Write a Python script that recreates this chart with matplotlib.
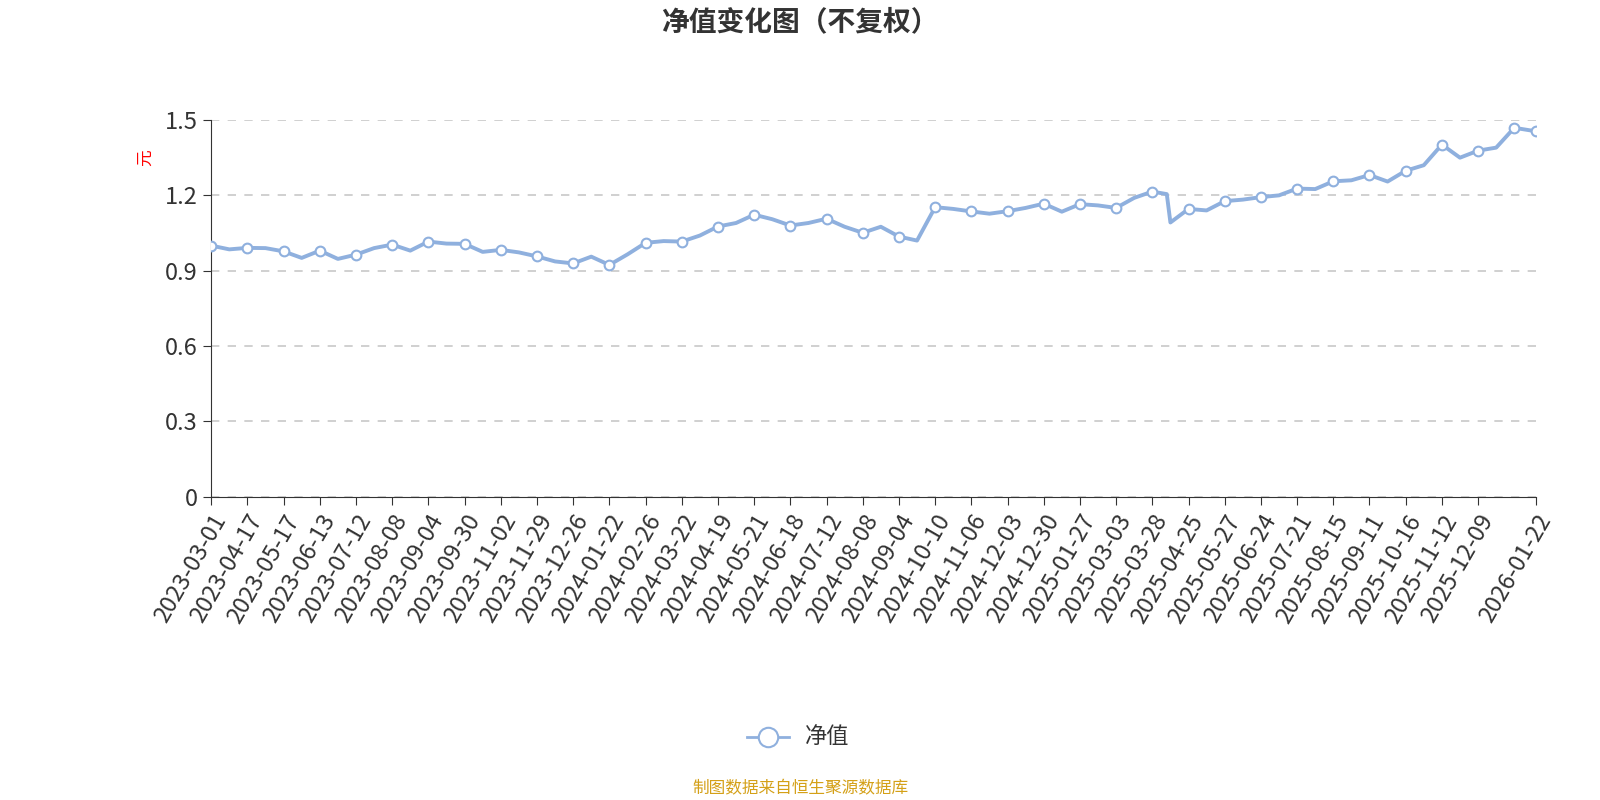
import matplotlib
matplotlib.use("Agg")
import matplotlib.pyplot as plt
import numpy as np

plt.rcParams['font.family'] = ['Noto Sans CJK SC', 'DejaVu Sans']

tick_labels = ["2023-03-01","2023-04-17","2023-05-17","2023-06-13","2023-07-12","2023-08-08",
 "2023-09-04","2023-09-30","2023-11-02","2023-11-29","2023-12-26","2024-01-22","2024-02-26",
 "2024-03-22","2024-04-19","2024-05-21","2024-06-18","2024-07-12","2024-08-08","2024-09-04",
 "2024-10-10","2024-11-06","2024-12-03","2024-12-30","2025-01-27","2025-03-03","2025-03-28",
 "2025-04-25","2025-05-27","2025-06-24","2025-07-21","2025-08-15","2025-09-11","2025-10-16",
 "2025-11-12","2025-12-09","2026-01-22"]

period = [0,0.5,1,1.5,2,2.5,3,3.5,4,4.5,5,5.5,6,6.5,7,7.5,8,8.5,9,9.5,10,10.5,11,11.5,12,12.5,
          13,13.5,14,14.5,15,15.5,16,16.5,17,17.5,18,18.5,19,19.5,20,20.5,21,21.5,22,22.5,23,23.5,
          24,24.5,25,25.5,26,26.4,26.5,27,27.5,28,28.5,29,29.5,30,30.5,31,31.5,32,32.5,33,33.5,
          34,34.5,35,35.5,36,36.6]
nav = [1.0,0.985,0.991,0.99,0.977,0.951,0.98,0.947,0.964,0.99,1.004,0.98,1.016,1.008,1.007,0.975,
       0.983,0.973,0.957,0.937,0.929,0.956,0.923,0.965,1.011,1.018,1.016,1.04,1.076,1.09,1.123,1.105,
       1.08,1.09,1.107,1.075,1.051,1.075,1.036,1.02,1.153,1.146,1.136,1.127,1.137,1.15,1.167,1.135,
       1.165,1.16,1.15,1.19,1.215,1.205,1.092,1.146,1.14,1.177,1.183,1.193,1.2,1.227,1.225,1.256,
       1.26,1.281,1.255,1.298,1.32,1.402,1.35,1.378,1.39,1.469,1.455]

color = '#8fb0de'
fig = plt.figure(figsize=(16, 8), dpi=100)
ax = fig.add_axes([0.132, 0.379, 0.828, 0.471])
ax.plot(period, nav, color=color, lw=2.8, zorder=3)
mk = [i for i, p in enumerate(period) if float(p).is_integer()] + [len(period) - 1]
ax.plot([period[i] for i in mk], [nav[i] for i in mk], 'o', ms=7, mfc='white', mec=color,
        mew=1.5, zorder=4)

ax.set_xlim(0, period[-1])
ax.set_ylim(0, 1.5)
ax.set_yticks([0, 0.3, 0.6, 0.9, 1.2, 1.5])
ax.set_yticklabels(['0', '0.3', '0.6', '0.9', '1.2', '1.5'])
xt = list(range(36)) + [period[-1]]
ax.set_xticks(xt)
ax.set_xticklabels(tick_labels, rotation=60, ha='right', rotation_mode='anchor')
ax.tick_params(axis='both', labelsize=17, colors='#333333', length=6)
ax.tick_params(axis='x', pad=4)
for s in ['top', 'right']:
    ax.spines[s].set_visible(False)
ax.spines['left'].set_color('#333333')
ax.spines['bottom'].set_color('#333333')
ax.grid(axis='y', ls=(0, (5, 5)), color='#c8c8c8', lw=1.2)
ax.set_axisbelow(True)
ax.text(-0.05, 0.9, '元', color='red', fontsize=12, rotation=90, transform=ax.transAxes,
        ha='center', va='center')

fig.text(0.5, 0.972, '净值变化图（不复权）', ha='center', va='center', fontsize=20,
         fontweight='bold', color='#333333')
fig.lines.append(plt.Line2D([0.467, 0.493], [0.079, 0.079], color=color, lw=2, transform=fig.transFigure))
fig.lines.append(plt.Line2D([0.48], [0.079], marker='o', ms=14, mfc='white', mec=color, mew=1.5,
                            transform=fig.transFigure))
fig.text(0.503, 0.08, '净值', ha='left', va='center', fontsize=16, color='#333333')
fig.text(0.5, 0.014, '制图数据来自恒生聚源数据库', ha='center', va='center', fontsize=12, color='#d4a017')

fig.savefig('out.png', dpi=100)
